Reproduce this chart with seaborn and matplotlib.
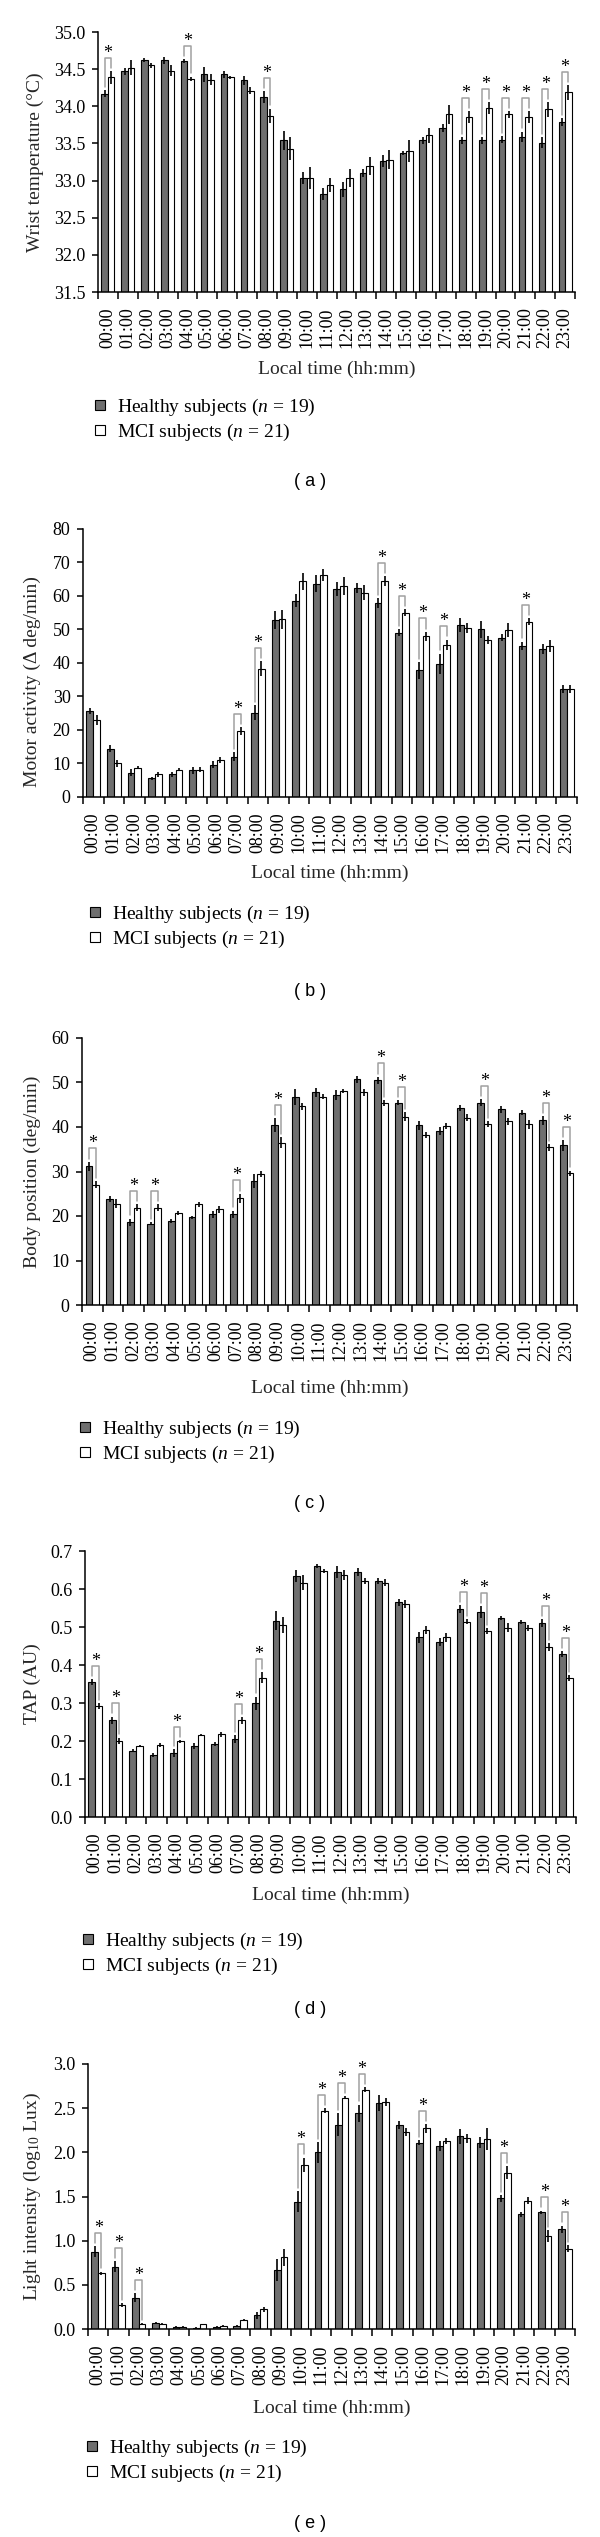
import numpy as np
import pandas as pd
import matplotlib
matplotlib.use("Agg")
import matplotlib.pyplot as plt
from matplotlib.lines import Line2D
from matplotlib.ticker import FormatStrFormatter
import seaborn as sns

hours = ["00:00", "01:00", "02:00", "03:00", "04:00", "05:00", "06:00", "07:00",
         "08:00", "09:00", "10:00", "11:00", "12:00", "13:00", "14:00", "15:00",
         "16:00", "17:00", "18:00", "19:00", "20:00", "21:00", "22:00", "23:00"]

# (a) wrist temperature
wrist_healthy = [34.17, 34.47, 34.62, 34.62, 34.61, 34.43, 34.43, 34.35, 34.13, 33.54, 33.03, 32.82,
                 32.88, 33.10, 33.26, 33.37, 33.54, 33.71, 33.54, 33.54, 33.55, 33.59, 33.51, 33.79]
wrist_mci = [34.39, 34.52, 34.55, 34.48, 34.37, 34.36, 34.39, 34.21, 33.87, 33.43, 33.03, 32.94,
             33.03, 33.20, 33.28, 33.40, 33.61, 33.89, 33.85, 33.98, 33.89, 33.86, 33.96, 34.19]
wrist_healthy_err = [0.05, 0.05, 0.03, 0.05, 0.03, 0.10, 0.05, 0.06, 0.08, 0.13, 0.08, 0.08,
                     0.10, 0.05, 0.08, 0.03, 0.05, 0.05, 0.05, 0.05, 0.05, 0.07, 0.07, 0.05]
wrist_mci_err = [0.09, 0.10, 0.03, 0.07, 0.03, 0.07, 0.02, 0.05, 0.10, 0.15, 0.15, 0.10,
                 0.12, 0.12, 0.13, 0.15, 0.10, 0.13, 0.08, 0.08, 0.05, 0.08, 0.10, 0.10]
wrist_stars = [0, 4, 8, 18, 19, 20, 21, 22, 23]

# (b) motor activity
motor_healthy = [25.7, 14.4, 7.3, 5.6, 6.8, 8.0, 9.7, 12.0, 25.2, 52.8, 58.6, 63.7,
                 62.1, 62.3, 57.8, 49.0, 37.8, 39.8, 51.3, 50.0, 47.6, 45.1, 44.1, 32.2]
motor_mci = [23.1, 10.0, 8.8, 6.8, 8.2, 8.2, 11.0, 19.7, 38.3, 53.0, 64.4, 66.4,
             63.0, 61.0, 64.4, 55.0, 48.0, 45.5, 50.5, 47.0, 49.8, 52.3, 45.1, 32.2]
motor_healthy_err = [1.0, 1.0, 1.0, 0.5, 0.7, 1.0, 1.0, 1.3, 2.2, 2.8, 2.0, 2.5,
                     2.2, 1.5, 1.5, 1.0, 2.5, 3.0, 2.0, 2.5, 1.0, 1.3, 1.5, 1.2]
motor_mci_err = [1.5, 1.0, 0.5, 0.7, 0.5, 0.7, 1.0, 1.2, 2.2, 2.8, 2.5, 1.8,
                 2.8, 2.2, 1.5, 1.0, 1.3, 1.5, 1.5, 1.2, 2.0, 1.0, 1.8, 1.2]
motor_stars = [7, 8, 14, 15, 16, 17, 21]

# (c) body position
body_healthy = [31.2, 23.8, 18.6, 18.3, 18.9, 19.7, 20.4, 20.4, 27.9, 40.4, 46.8, 47.8,
                47.2, 50.7, 50.5, 45.5, 40.4, 39.1, 44.3, 45.5, 44.0, 43.2, 41.5, 35.9]
body_mci = [27.0, 22.8, 21.9, 21.9, 20.7, 22.6, 21.5, 24.0, 29.4, 36.5, 44.7, 46.8,
            48.1, 47.8, 45.4, 42.3, 38.2, 40.2, 42.1, 40.6, 41.3, 40.6, 35.4, 29.6]
body_healthy_err = [1.0, 0.7, 0.8, 0.4, 0.5, 0.3, 0.8, 0.8, 1.5, 1.6, 1.8, 1.0,
                    1.2, 0.8, 0.8, 0.5, 1.0, 1.0, 0.7, 0.8, 0.8, 0.6, 1.0, 1.2]
body_mci_err = [0.8, 1.0, 0.7, 0.7, 0.5, 0.5, 0.8, 1.0, 0.7, 1.2, 0.8, 0.6,
                0.5, 0.8, 0.6, 1.0, 0.6, 0.6, 0.8, 0.7, 0.8, 1.0, 0.8, 0.6]
body_stars = [0, 2, 3, 7, 9, 14, 15, 19, 22, 23]

# (d) TAP
tap_healthy = [0.355, 0.254, 0.175, 0.164, 0.168, 0.187, 0.192, 0.205, 0.299, 0.517, 0.634, 0.660,
               0.645, 0.644, 0.621, 0.565, 0.473, 0.461, 0.547, 0.540, 0.523, 0.514, 0.511, 0.428]
tap_mci = [0.291, 0.201, 0.186, 0.190, 0.199, 0.215, 0.218, 0.254, 0.367, 0.505, 0.617, 0.648,
           0.637, 0.621, 0.617, 0.560, 0.492, 0.473, 0.514, 0.490, 0.498, 0.498, 0.448, 0.365]
tap_healthy_err = [0.008, 0.010, 0.005, 0.005, 0.010, 0.008, 0.006, 0.010, 0.018, 0.025, 0.015, 0.005,
                   0.015, 0.010, 0.008, 0.010, 0.015, 0.010, 0.010, 0.015, 0.005, 0.005, 0.010, 0.008]
tap_mci_err = [0.008, 0.008, 0.003, 0.005, 0.004, 0.003, 0.007, 0.008, 0.015, 0.022, 0.020, 0.005,
               0.012, 0.008, 0.010, 0.010, 0.010, 0.012, 0.006, 0.008, 0.012, 0.008, 0.010, 0.008]
tap_stars = [0, 1, 4, 7, 8, 18, 19, 22, 23]

# (e) light intensity
light_healthy = [0.875, 0.706, 0.355, 0.072, 0.026, 0.015, 0.026, 0.038, 0.158, 0.668, 1.44, 2.00,
                 2.31, 2.44, 2.56, 2.31, 2.11, 2.07, 2.18, 2.11, 1.48, 1.30, 1.32, 1.13]
light_mci = [0.630, 0.272, 0.057, 0.053, 0.026, 0.053, 0.038, 0.100, 0.223, 0.811, 1.86, 2.47,
             2.62, 2.71, 2.57, 2.23, 2.27, 2.13, 2.16, 2.15, 1.77, 1.45, 1.05, 0.91]
light_healthy_err = [0.06, 0.06, 0.05, 0.01, 0.005, 0.005, 0.005, 0.01, 0.04, 0.12, 0.12, 0.12,
                     0.13, 0.10, 0.09, 0.05, 0.03, 0.06, 0.08, 0.06, 0.04, 0.03, 0.02, 0.04]
light_mci_err = [0.02, 0.02, 0.01, 0.01, 0.005, 0.005, 0.005, 0.01, 0.03, 0.10, 0.08, 0.03,
                 0.02, 0.03, 0.05, 0.05, 0.05, 0.03, 0.05, 0.12, 0.07, 0.04, 0.07, 0.04]
light_stars = [0, 1, 2, 10, 11, 12, 13, 16, 20, 22, 23]

GRAY = "#6f6f6f"
W, H = 600, 2537

sns.set_style("ticks")
plt.rcParams["font.family"] = ["Liberation Serif", "DejaVu Serif"]
plt.rcParams["mathtext.fontset"] = "custom"
plt.rcParams["mathtext.rm"] = "Liberation Serif"
plt.rcParams["mathtext.it"] = "Liberation Serif:italic"
plt.rcParams["axes.edgecolor"] = "black"
plt.rcParams["xtick.color"] = "black"
plt.rcParams["ytick.color"] = "black"
plt.rcParams["text.color"] = "black"

fig = plt.figure(figsize=(W / 100, H / 100), dpi=100)


def draw_panel(box, healthy, mci, h_err, m_err, stars, ylim, yticks, fmt, ylabel,
               ylab_x, ylab_y, xlab_y, leg_x, leg_y, cap_y, tag):
    left, right, top, bottom = box
    ax = fig.add_axes([left / W, 1 - bottom / H, (right - left) / W, (bottom - top) / H])
    df = pd.DataFrame({"time": hours * 2,
                       "value": healthy + mci,
                       "group": ["Healthy"] * 24 + ["MCI"] * 24})
    sns.barplot(data=df, x="time", y="value", hue="group", hue_order=["Healthy", "MCI"],
                palette={"Healthy": GRAY, "MCI": "white"}, saturation=1,
                edgecolor="black", linewidth=0.8, width=0.66, errorbar=None,
                legend=False, ax=ax)

    rects = sorted(ax.patches, key=lambda p: p.get_x())
    hx = [p.get_x() + p.get_width() / 2 for p in rects[0::2]]
    mx = [p.get_x() + p.get_width() / 2 for p in rects[1::2]]
    hv = [p.get_height() for p in rects[0::2]]
    mv = [p.get_height() for p in rects[1::2]]
    ax.errorbar(hx, hv, yerr=h_err, fmt="none", ecolor="black", elinewidth=1.2, capsize=0, zorder=3)
    ax.errorbar(mx, mv, yerr=m_err, fmt="none", ecolor="black", elinewidth=1.2, capsize=0, zorder=3)

    rng = ylim[1] - ylim[0]
    for i in stars:
        y1 = hv[i] + h_err[i]
        y2 = mv[i] + m_err[i]
        lvl = max(y1, y2) + 0.05 * rng
        ax.plot([hx[i], hx[i], mx[i], mx[i]],
                [y1 + 0.012 * rng, lvl, lvl, y2 + 0.012 * rng],
                color="#a0a0a0", lw=1.1, clip_on=False, zorder=4)
        ax.text((hx[i] + mx[i]) / 2, lvl, "*", ha="center", va="baseline",
                fontsize=13, clip_on=False)

    ax.set_xlim(-0.5, 23.5)
    ax.set_ylim(*ylim)
    ax.set_yticks(yticks)
    ax.yaxis.set_major_formatter(FormatStrFormatter(fmt))
    ax.set_xticks(np.arange(-0.5, 24, 1), minor=True)
    ax.tick_params(axis="x", which="major", length=0, pad=11, labelsize=13, labelrotation=90)
    ax.tick_params(axis="x", which="minor", length=5, width=1.1)
    ax.tick_params(axis="y", length=4, width=1.1, pad=5, labelsize=13)
    sns.despine(ax=ax)
    for s in ["left", "bottom"]:
        ax.spines[s].set_linewidth(1.1)

    ax.set_xlabel("Local time (hh:mm)", fontsize=14)
    ax.xaxis.label.set_va("center")
    ax.xaxis.set_label_coords(0.5, -(xlab_y - bottom) / (bottom - top))
    ax.set_ylabel(ylabel, fontsize=14)
    ax.yaxis.label.set_va("center")
    ax.yaxis.set_label_coords(-(left - ylab_x) / (right - left), ylab_y)

    handles = [Line2D([0], [0], marker="s", linestyle="none", markersize=6.5,
                      markerfacecolor=GRAY, markeredgecolor="black", markeredgewidth=0.8,
                      label=r"Healthy subjects ($n$ = 19)"),
               Line2D([0], [0], marker="s", linestyle="none", markersize=6.5,
                      markerfacecolor="white", markeredgecolor="black", markeredgewidth=0.8,
                      label=r"MCI subjects ($n$ = 21)")]
    fig.legend(handles=handles, loc="center left",
               bbox_to_anchor=((leg_x - 8) / W, 1 - leg_y / H),
               frameon=False, borderpad=0, borderaxespad=0, handlelength=0.8,
               handletextpad=0.5, labelspacing=0.2, fontsize=14)

    fig.text(310 / W, 1 - cap_y / H, tag, ha="center", va="center",
             fontsize=13, family="Liberation Sans")


draw_panel((98, 575, 32, 292), wrist_healthy, wrist_mci, wrist_healthy_err, wrist_mci_err,
           wrist_stars, (31.5, 35.0), np.arange(31.5, 35.01, 0.5), "%.1f",
           "Wrist temperature (°C)", 35, 0.5, 369, 100, 419.5, 482, "( a )")
draw_panel((83, 577, 529, 797), motor_healthy, motor_mci, motor_healthy_err, motor_mci_err,
           motor_stars, (0, 80), np.arange(0, 81, 10), "%d",
           "Motor activity (Δ deg/min)", 32, 0.43, 873, 95, 926.5, 992, "( b )")
draw_panel((82, 577, 1038, 1305), body_healthy, body_mci, body_healthy_err, body_mci_err,
           body_stars, (0, 60), np.arange(0, 61, 10), "%d",
           "Body position (deg/min)", 32, 0.5, 1388, 85, 1442, 1503, "( c )")
draw_panel((85, 576, 1551, 1817), tap_healthy, tap_mci, tap_healthy_err, tap_mci_err,
           tap_stars, (0, 0.7), np.arange(0, 0.71, 0.1), "%.1f",
           "TAP (AU)", 32, 0.5, 1895, 88, 1953.5, 2010, "( d )")
draw_panel((88, 575, 2064, 2329), light_healthy, light_mci, light_healthy_err, light_mci_err,
           light_stars, (0, 3.0), np.arange(0, 3.01, 0.5), "%.1f",
           r"Light intensity (log$_{\mathrm{10}}$ Lux)", 32, 0.5, 2408, 92, 2461, 2523, "( e )")

fig.savefig("out.png", dpi=100)
